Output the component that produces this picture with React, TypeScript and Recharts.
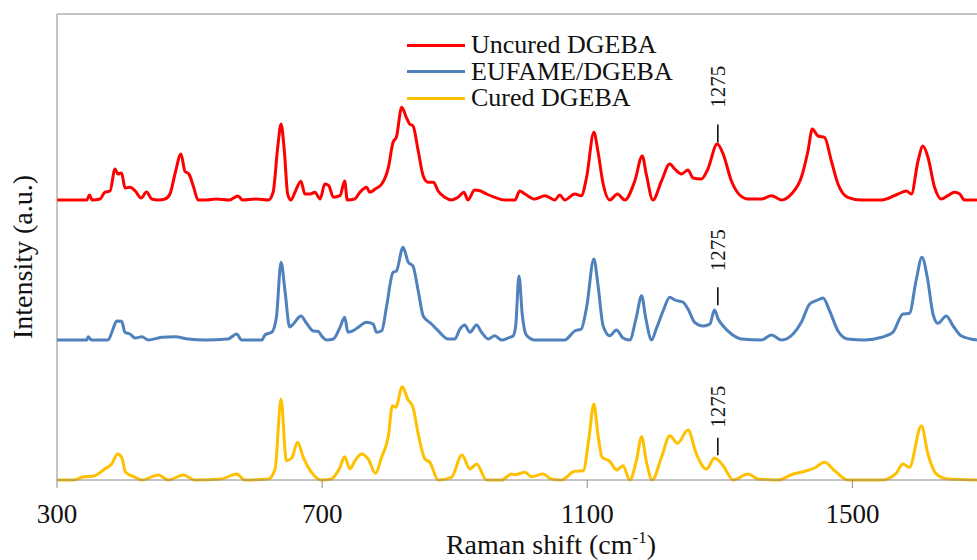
import React from "react";
import { LineChart, Line, XAxis, YAxis, Legend, ReferenceLine, ReferenceDot } from "recharts";

// Raman spectra, [wavenumber cm-1, intensity a.u.] (each trace measured from its own baseline)
const uncuredDgeba: [number, number][] = [
  [300,0],[345,0],[349,5],[353,0],[365,1],[372,7.7],[380,9],[387.5,31],[392,26],[397.5,27],[402.6,12],[410,12.7],[418,9],[427,2],[435,8],[443,1],[453,0],[463,1],[470.4,6],[478,26],[487,46],[493,28.7],[499,26],[505.6,14],[513,0],[525,0],[540,1],[560,0],[573,4],[580,0],[600,1],[619,0],[626,7.7],[633,52.7],[638,76],[643,49],[648,6],[653,0],[659,7.7],[668,18.7],[674,6],[682,6],[689,7.7],[697,1],[704,16],[710,14.3],[717,2.7],[727,4.3],[734,19],[738,0],[749,1],[757,7.7],[767,12.7],[772,7.7],[780,11],[790,16],[800,32.7],[807,57.7],[812,62.7],[820,92.7],[827,82.7],[832,76],[837,74.3],[845,49],[852.5,24],[860,17.7],[868,17.7],[875,9],[885,2.7],[895,0],[905,2.7],[914,7.7],[920,0],[930,10],[938,9.3],[948,6],[960.5,2.7],[975.6,0],[991,0],[998,9],[1006,6],[1021,1],[1036,4.3],[1051,0],[1058.6,5],[1066,0],[1081,6],[1091,4.3],[1099,22.7],[1110,67.7],[1116,49],[1124,16],[1134,0],[1145.5,6],[1156.6,0],[1171.7,19],[1183,44],[1189,26],[1199,0],[1212,19],[1224.5,36],[1232,31],[1242,26],[1252,30],[1259.6,22],[1272,21],[1282,31],[1296,56],[1305,46],[1317.5,19],[1330,5],[1342.6,1],[1362.7,1],[1378,4.3],[1393,0],[1408,6],[1423,22.7],[1433,49],[1439.6,71],[1448,64],[1458,62.7],[1468.3,39],[1478.3,16],[1493,2.7],[1513.5,0],[1544,0],[1569,6],[1581.4,9],[1589,6],[1599,39],[1606.5,54],[1614,42.7],[1624,12.7],[1634,1],[1644,4.3],[1654,7.7],[1662,6],[1669,0],[1688,0],
];

const eufameDgeba: [number, number][] = [
  [300,0],[345,0],[347,3.3],[352,0],[377,0],[383.5,9],[390,19],[397.5,18.7],[402.6,7.7],[410,6],[418,2],[428,3.3],[438,0],[458,2.7],[478,3.3],[498,1],[523,0],[558,1],[571,6],[578.5,0],[609,0],[614,5.3],[624,7.7],[631,22.7],[638,77.7],[644,49],[651,13],[656.5,16],[668,24],[676.5,16.7],[686.6,9],[694,8.7],[699,4.3],[707,0],[717,1],[727,12.7],[734,22.7],[739,7.7],[747,9.3],[754.5,12.7],[767,17.7],[777,16],[782,7.7],[790,9.3],[797,32.7],[807,67.7],[812,69],[822,92.7],[830,77.7],[837,74],[845,49],[852.5,24],[865,16],[875,9.3],[890,1],[900,1],[908,11],[915,15],[923,7.7],[933,15],[940.5,7.7],[950.5,1],[960.5,4.3],[970.6,0],[983,2.7],[988,4],[992,14],[997,64],[1002,25],[1008,5],[1021,0],[1066,0],[1081,9],[1091,11],[1099,32.7],[1110,81],[1116,56],[1124,14],[1134,4.3],[1144,10],[1154,2],[1164,0],[1174,22.7],[1182,44.3],[1188,22.7],[1197,0],[1204,11],[1214.4,29],[1224.5,42.7],[1232,40],[1244.6,37.7],[1252,31],[1262,17.7],[1275,14],[1285,16],[1292,30],[1297.5,21],[1305,14],[1317.5,6],[1332.5,1],[1362.7,0],[1378,5],[1393,0],[1410.5,6],[1423,17.7],[1435.6,36],[1445.6,39.3],[1455.7,42],[1465.7,29],[1478.3,9],[1493,1],[1518.5,0],[1544,2.7],[1561,7.7],[1576.3,26],[1586,26.7],[1596,59],[1605,82.7],[1613,62.7],[1621.6,26],[1629,16.7],[1641.7,24],[1652,14],[1664,4.3],[1688,0],
];

const curedDgeba: [number, number][] = [
  [300,0],[325,0],[337,2.7],[357,4.3],[372,11],[382.5,16],[391.5,26],[397.5,22.7],[403.6,7.7],[418,2.7],[428,0],[453,5],[468,0],[490.5,5],[508,0],[548,1],[571,6],[583.5,0],[619,1],[629,11],[638,81],[646,19.3],[654,22],[663,37.7],[671.5,22.7],[684,7.7],[699,0],[714,1],[727,12.7],[734,23.3],[742,11],[749,18.7],[759.5,26],[769.5,21],[780.6,6.7],[789.6,22.7],[800,44.3],[806,74.3],[811,72.7],[821,93.3],[829,81],[837,72.7],[845,46],[855,21],[862.5,17.7],[875,0],[895,2.7],[911,25],[923,11],[933,16],[948,0],[970.6,0],[986,6],[991,5.3],[1006,7.7],[1016,3.3],[1033.4,6],[1046,1],[1061,0],[1081,8.7],[1094,9.3],[1102,39],[1110,76],[1116,46],[1122.4,22.7],[1134,18.7],[1144,10],[1154,14.3],[1164,0],[1174,19],[1182,43.3],[1189,19],[1198,0],[1212,22.7],[1224.5,44.3],[1236,36.7],[1252,50],[1264.6,26],[1280,11],[1292,22],[1305,14.3],[1320,0],[1342.6,6],[1357.7,1],[1388,0],[1408,5.3],[1428,8.7],[1443,12],[1458,17.7],[1473.3,9.3],[1493,0],[1544,0],[1566,6.7],[1576,16],[1586,12.7],[1604,54.3],[1614,26],[1626.6,6],[1644,1],[1688,0],
];

const seriesNames = ["Uncured DGEBA", "EUFAME/DGEBA", "Cured DGEBA"];
const seriesColors = ["#FF0000", "#4F81BD", "#FFC000"];
const seriesOffsets = [280, 140, 0]; // vertical stacking of the traces
const xTicks = [300, 700, 1100, 1500];

// "1275" band markers: x, marker line top/bottom, label base (in trace units)
const markerText = "1275";
const markerX = 1297;
const markerTop = [75.5, 52.8, 42.2];
const markerBottom = [57.5, 34.8, 24.8];
const markerLabelBase = [92.2, 68.8, 52.2];

const FONT = "Liberation Serif";
const AXIS_GREY = "#8a8a8a";

const traces = [uncuredDgeba, eufameDgeba, curedDgeba].map((pts, i) =>
  pts.map(([w, v]) => ({ w, v: v + seriesOffsets[i] }))
);

function LegendBox() {
  return (
    <div style={{ fontFamily: FONT }}>
      {seriesNames.map((n, i) => (
        <div key={n} style={{ display: "flex", alignItems: "center", height: 26.5 }}>
          <div style={{ width: 58, height: 3, background: seriesColors[i] }} />
          <span style={{ marginLeft: 6, fontSize: 26, lineHeight: "26.5px", color: "#111", whiteSpace: "nowrap" }}>{n}</span>
        </div>
      ))}
    </div>
  );
}

const xLabel = (props: any) => {
  const vb = props.viewBox;
  const x = vb.x + vb.width / 2 + 34;
  return (
    <text x={x} y={vb.y + 74} textAnchor="middle" fontFamily={FONT} fontSize={28} fill="#111">
      Raman shift (cm<tspan fontSize={17} dy={-11}>-1</tspan><tspan dy={11}>)</tspan>
    </text>
  );
};

const yLabel = () => {
  const x = 23;
  const y = 257;
  return (
    <text x={x} y={y} dy="0.33em" transform={`rotate(-90 ${x} ${y})`} textAnchor="middle" fontFamily={FONT} fontSize={28} fill="#111">
      Intensity (a.u.)
    </text>
  );
};

export default function App() {
  return (
    <div style={{ position: "absolute", left: 0, top: 0, width: 977, height: 560, overflow: "hidden", background: "#fff", fontFamily: FONT }}>
      <LineChart width={977} height={560} margin={{ top: 14, right: 0, bottom: 0, left: 0 }} style={{ fontFamily: FONT }}>
        <XAxis
          type="number"
          dataKey="w"
          domain={[300, 1688]}
          ticks={xTicks}
          allowDataOverflow
          height={80}
          stroke={AXIS_GREY}
          tickSize={8}
          tickMargin={16}
          tick={{ fontSize: 27, fontFamily: FONT, fill: "#111" }}
          label={xLabel}
        />
        <YAxis type="number" domain={[0, 466]} width={57} tick={false} tickLine={false} stroke={AXIS_GREY} label={yLabel} />
        <ReferenceLine y={466} stroke={AXIS_GREY} ifOverflow="visible" />
        <Legend
          layout="vertical"
          align="center"
          verticalAlign="middle"
          wrapperStyle={{ left: 407, top: 32, width: 300, height: 80 }}
          content={() => <LegendBox />}
        />
        {traces.map((d, i) => (
          <Line
            key={seriesNames[i]}
            data={d}
            dataKey="v"
            name={seriesNames[i]}
            type="monotone"
            stroke={seriesColors[i]}
            strokeWidth={3}
            dot={false}
            isAnimationActive={false}
          />
        ))}
        {seriesOffsets.map((off, i) => (
          <ReferenceLine
            key={"m" + i}
            segment={[{ x: markerX, y: off + markerTop[i] }, { x: markerX, y: off + markerBottom[i] }]}
            stroke="#000"
            strokeWidth={1.5}
          />
        ))}
        {seriesOffsets.map((off, i) => (
          <ReferenceDot
            key={"t" + i}
            x={markerX}
            y={off + markerLabelBase[i]}
            r={0}
            ifOverflow="visible"
            shape={(p: any) => (
              <text
                x={p.cx}
                y={p.cy}
                dy="0.35em"
                transform={`rotate(-90 ${p.cx} ${p.cy})`}
                textAnchor="start"
                fontFamily={FONT}
                fontSize={21}
                fill="#111"
              >
                {markerText}
              </text>
            )}
          />
        ))}
      </LineChart>
    </div>
  );
}
